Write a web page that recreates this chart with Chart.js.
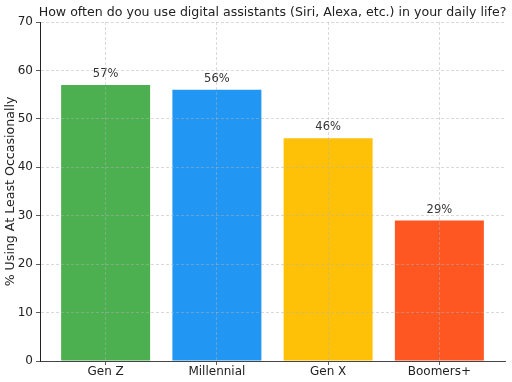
<!DOCTYPE html>
<html>
<head>
<meta charset="utf-8">
<script src="https://cdn.jsdelivr.net/npm/chart.js@4"></script>
<style>
  html, body { margin: 0; padding: 0; background: #fff; }
  #wrap { width: 512px; height: 382px; }
</style>
</head>
<body>
<div id="wrap"><canvas id="myChart" width="512" height="382"></canvas></div>
<script>
var chartTitle = 'How often do you use digital assistants (Siri, Alexa, etc.) in your daily life?';
var categories = ['Gen Z', 'Millennial', 'Gen X', 'Boomers+'];
var values = [57, 56, 46, 29];
var barColors = ['#4CAF50', '#2196F3', '#FFC107', '#FF5722'];
var yTicks = [0, 10, 20, 30, 40, 50, 60, 70];

var fontFamily = 'DejaVu Sans';
var gridColor = 'rgba(176,176,176,0.6)';

// title centred over the plot area, like matplotlib does it
var titlePlugin = {
	id: 'plotTitle',
	afterDraw: function(chart) {
		var ctx = chart.ctx;
		var area = chart.chartArea;
		ctx.save();
		ctx.font = '12.6px "' + fontFamily + '"';
		ctx.fillStyle = '#222';
		ctx.textAlign = 'center';
		ctx.textBaseline = 'bottom';
		ctx.fillText(chartTitle, (area.left + area.right) / 2, area.top - 3);
		ctx.restore();
	}
};

// percent labels above each bar
var valueLabels = {
	id: 'valueLabels',
	afterDatasetsDraw: function(chart) {
		var ctx = chart.ctx;
		var meta = chart.getDatasetMeta(0);
		ctx.save();
		ctx.font = '11.5px "' + fontFamily + '"';
		ctx.fillStyle = '#333';
		ctx.textAlign = 'center';
		ctx.textBaseline = 'bottom';
		meta.data.forEach(function(bar, i) {
			ctx.fillText(values[i] + '%', bar.x, bar.y - 5);
		});
		ctx.restore();
	}
};

var ctx = document.getElementById('myChart').getContext('2d');
var chart = new Chart(ctx, {
	type: 'bar',
	data: {
		datasets: [{
			label: '% Using At Least Occasionally',
			data: values.map(function(v, i) { return { x: i, y: v }; }),
			backgroundColor: barColors,
			borderWidth: 0,
			barPercentage: 0.8,
			categoryPercentage: 1.0
		}]
	},
	options: {
		responsive: false,
		animation: false,
		layout: { padding: { top: 22, right: 7, left: 0, bottom: 0 } },
		plugins: {
			legend: { display: false },
			tooltip: { enabled: false },
			title: { display: false }
		},
		scales: {
			x: {
				type: 'linear',
				min: -0.59,
				max: 3.59,
				offset: false,
				afterBuildTicks: function(scale) {
					scale.ticks = categories.map(function(c, i) { return { value: i }; });
				},
				afterFit: function(scale) { scale.height = 21; },
				grid: {
					offset: false,
					z: 1,
					color: gridColor,
					lineWidth: 0.8,
					tickLength: 4,
					tickColor: '#333'
				},
				border: { display: true, color: '#444', width: 1, dash: [3, 2], z: 2 },
				ticks: {
					autoSkip: false,
					maxRotation: 0,
					padding: 0,
					color: '#222',
					font: { family: fontFamily, size: 12 },
					callback: function(v) { return categories[v]; }
				}
			},
			y: {
				min: 0,
				max: 70,
				afterBuildTicks: function(scale) {
					scale.ticks = yTicks.map(function(v) { return { value: v }; });
				},
				afterFit: function(scale) { scale.width = 40; },
				grid: {
					z: 1,
					color: gridColor,
					lineWidth: 0.8,
					tickLength: 4,
					tickColor: '#333'
				},
				border: { display: true, color: '#222', width: 1, dash: [3, 2], z: 2 },
				ticks: {
					padding: 3,
					color: '#222',
					font: { family: fontFamily, size: 12 }
				},
				title: {
					display: true,
					text: '% Using At Least Occasionally',
					color: '#222',
					padding: 3,
					font: { family: fontFamily, size: 12.6 }
				}
			}
		}
	},
	plugins: [titlePlugin, valueLabels]
});
</script>
</body>
</html>
